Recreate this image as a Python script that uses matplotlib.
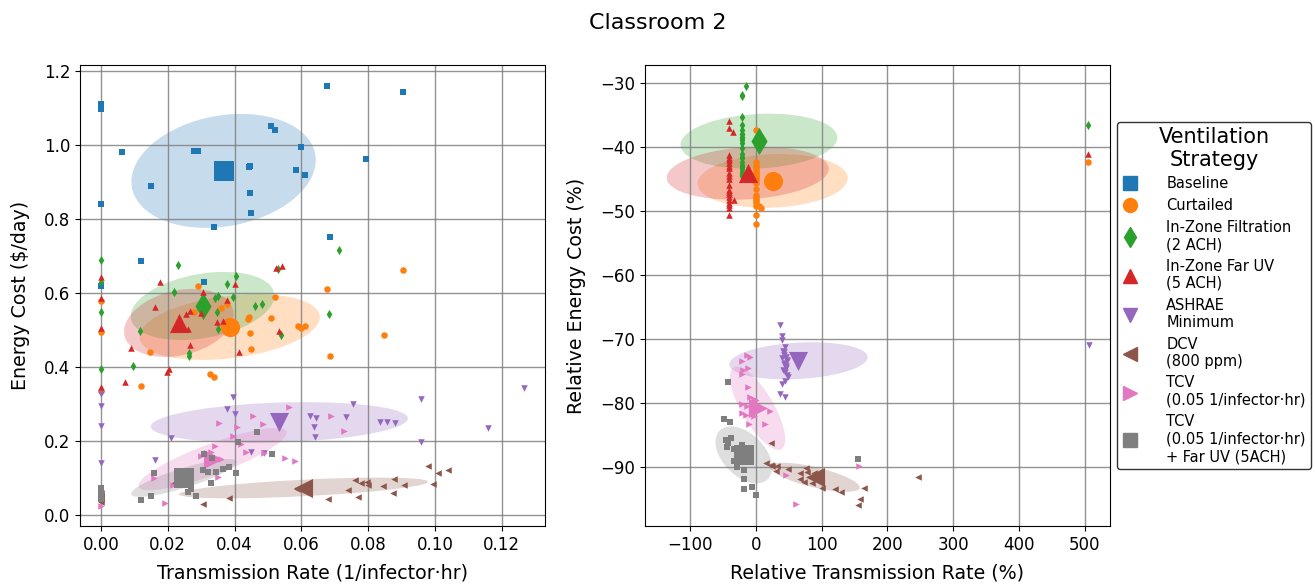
import numpy as np
import matplotlib
matplotlib.use('Agg')
import matplotlib.pyplot as plt
import matplotlib.transforms as transforms
from matplotlib.patches import Ellipse
from matplotlib.lines import Line2D

plt.rcParams['font.size'] = 12

strategies = ['Baseline', 'Curtailed', 'In-Zone Filtration\n(2 ACH)', 'In-Zone Far UV\n(5 ACH)',
              'ASHRAE\nMinimum', 'DCV\n(800 ppm)', 'TCV\n(0.05 1/infector\u00b7hr)',
              'TCV\n(0.05 1/infector\u00b7hr)\n+ Far UV (5ACH)']
colors = ['tab:blue', 'tab:orange', 'tab:green', 'tab:red', 'tab:purple', 'tab:brown', 'tab:pink', 'tab:gray']
markers = ['s', 'o', 'd', '^', 'v', '<', '>', 's']

# ---- absolute values (left panel) ----
base_x = [0, 0, 0.0063, 0.0149, 0, 0.0278, 0.029, 0.0442, 0.0445, 0.0445, 0.0448, 0.0338, 0.0508, 0.0522,
          0.060, 0.0585, 0.0612, 0.0119, 0.0678, 0.0904, 0.0794, 0.0686, 0.0307, 0]
base_y = [1.11, 1.098, 0.981, 0.889, 0.84, 0.984, 0.983, 0.94, 0.943, 0.870, 0.816, 0.778, 1.051, 1.04,
          0.995, 0.932, 0.919, 0.686, 1.159, 1.143, 0.962, 0.751, 0.63, 0.619]
curt_x = [0, 0, 0, 0.029, 0.0521, 0.0376, 0.0279, 0.0508, 0.0443, 0.044, 0.0589, 0.0599, 0.0611, 0.0445,
          0.0449, 0.0148, 0.0327, 0.0338, 0.0119, 0.0904, 0.0677, 0.0847, 0.0686, 0.036]
curt_y = [0.579, 0.495, 0.336, 0.619, 0.59, 0.569, 0.548, 0.532, 0.536, 0.529, 0.511, 0.505, 0.512, 0.491,
          0.449, 0.441, 0.382, 0.374, 0.348, 0.661, 0.61, 0.486, 0.43, 0.56]
filt_x = [0, 0, 0, 0, 0.0232, 0.0531, 0.0218, 0.0405, 0.0377, 0.035, 0.0341, 0.0396, 0.0462, 0.0482,
          0.0346, 0.0351, 0.0117, 0.054, 0.0263, 0.0263, 0.0096, 0.0712, 0.0682, 0.031]
filt_y = [0.689, 0.631, 0.549, 0.394, 0.676, 0.665, 0.604, 0.647, 0.624, 0.593, 0.586, 0.588, 0.565, 0.569,
          0.548, 0.504, 0.497, 0.486, 0.439, 0.43, 0.404, 0.717, 0.542, 0.57]
uv_x = [0, 0, 0, 0, 0.0541, 0.0525, 0.0177, 0.0402, 0.0304, 0.0376, 0.0163, 0.0265, 0.0255, 0.0298,
        0.0346, 0.0366, 0.0259, 0.0532, 0.0265, 0.0089, 0.0412, 0.0205, 0.0197, 0.0073]
uv_y = [0.644, 0.586, 0.505, 0.347, 0.674, 0.668, 0.631, 0.623, 0.602, 0.581, 0.561, 0.550, 0.542, 0.545,
        0.522, 0.524, 0.503, 0.498, 0.459, 0.452, 0.441, 0.395, 0.386, 0.359]
ash_x = [0, 0, 0, 0, 0.0376, 0.0401, 0.0396, 0.0627, 0.0644, 0.0637, 0.0642, 0.0733, 0.0754, 0.0209,
         0.0162, 0.045, 0.0488, 0.0836, 0.0856, 0.088, 0.1266, 0.1159, 0.0958, 0.0958]
ash_y = [0.327, 0.295, 0.241, 0.14, 0.286, 0.273, 0.318, 0.268, 0.261, 0.237, 0.212, 0.264, 0.30, 0.207,
         0.149, 0.169, 0.167, 0.25, 0.251, 0.248, 0.344, 0.234, 0.198, 0.313]
dcv_x = [0.098, 0.1008, 0.104, 0.0995, 0.0876, 0.0907, 0.0844, 0.0873, 0.0759, 0.0779, 0.0796, 0.0798,
         0.0738, 0.0769, 0.0679, 0.0587, 0.0383, 0.0305, 0.0219, 0.062, 0, 0, 0, 0]
dcv_y = [0.132, 0.114, 0.121, 0.084, 0.098, 0.080, 0.078, 0.060, 0.095, 0.087, 0.09, 0.081,
         0.068, 0.048, 0.042, 0.069, 0.047, 0.029, 0.086, 0.075, 0.06, 0.05, 0.042, 0.035]
tcv_x = [0.0562, 0.0454, 0.0353, 0.0406, 0.0486, 0.069, 0.0726, 0.0396, 0.0418, 0.034, 0.0435, 0.0489,
         0.0551, 0.0582, 0.0307, 0.0358, 0.035, 0.016, 0.0217, 0.0191, 0, 0, 0.030, 0.033]
tcv_y = [0.293, 0.268, 0.249, 0.239, 0.246, 0.268, 0.226, 0.213, 0.191, 0.186, 0.169, 0.168,
         0.153, 0.146, 0.165, 0.15, 0.102, 0.099, 0.081, 0.032, 0.046, 0.025, 0.16, 0.17]
tuv_x = [0.0467, 0.0409, 0.0512, 0.0307, 0.0331, 0.0304, 0.032, 0.0343, 0.0366, 0.0382, 0.0403, 0.033,
         0.0159, 0.0259, 0.0269, 0.0284, 0.0149, 0.0121, 0, 0, 0, 0, 0.024, 0.027]
tuv_y = [0.225, 0.198, 0.164, 0.164, 0.155, 0.122, 0.115, 0.115, 0.124, 0.129, 0.113, 0.086,
         0.113, 0.061, 0.069, 0.052, 0.052, 0.041, 0.074, 0.063, 0.052, 0.043, 0.105, 0.095]

# mean, std and correlation of each cloud (left panel)
abs_mean_x = [0.0367, 0.0385, 0.0304, 0.0233, 0.0534, 0.0606, 0.0334, 0.0248]
abs_mean_y = [0.930, 0.508, 0.565, 0.519, 0.250, 0.073, 0.151, 0.100]
abs_std_x = [0.0276, 0.027, 0.0215, 0.0164, 0.0385, 0.0373, 0.0222, 0.0158]
abs_std_y = [0.154, 0.089, 0.092, 0.092, 0.055, 0.028, 0.084, 0.051]
abs_rho = [0.19, 0.3, 0.3, 0.25, 0.2, 0.6, 0.85, 0.84]

# ---- relative values (right panel), baseline excluded ----
curt_rx = [0, 0, 0, 0, 0, 0, 0, 0, 0, 0, 0, 0, 5, 8, 0, 0, 505, 0, 0, 0, 0, 0, 0, 0]
curt_ry = [-37.3, -42.3, -42.9, -43.4, -44.0, -44.6, -45.1, -45.6, -47.5, -48.1, -48.8, -49.3, -49.3, -49.5,
           -50.6, -52.1, -42.3, -43.0, -44.3, -46.5, -47.8, -44.8, -43.7, -48.5]
filt_rx = [-14.7, -21, -21, -21, -21, -21, -21, -21, -21, -21, -21, -21, -21, -21, -21, 505,
           -21, -21, -21, -21, -21, -21, -21, -21]
filt_ry = [-30.5, -31.9, -32.1, -35.4, -37.3, -37.9, -38.4, -38.9, -39.4, -41.1, -41.8, -42.4, -43.1, -43.9,
           -44.6, -36.5, -38.0, -38.6, -40.2, -41.5, -42.8, -43.5, -44.2, -36.5]
uv_rx = [-40, -40, -34, -40, -40, -40, -40, -40, -40, -40, -40, -40, -33, -40, -40, -40, -40, 505,
         -40, -40, -40, -40, -40, -40]
uv_ry = [-36.0, -37.1, -37.6, -41.3, -41.8, -42.5, -43.3, -44.0, -44.5, -46.7, -47.3, -47.8, -48.3, -48.3,
         -49.0, -49.5, -50.6, -41.1, -42.0, -43.0, -45.0, -46.0, -47.0, -48.7]
ash_rx = [36.4, 39.4, 40.4, 44.4, 42.9, 45.5, 40.4, 47, 43, 45.5, 44, 47, 49, 40.4, 36.4, 44.4, 506,
          43, 46, 41, 48, 44, 42, 45]
ash_ry = [-67.8, -69.6, -70.2, -71.3, -72.5, -72.8, -73.0, -73.5, -73.9, -74.6, -75.2, -75.6, -76, -77.1,
          -78.6, -79.0, -71.0, -72.0, -74.2, -74.9, -73.2, -76.5, -71.8, -73.7]
dcv_rx = [23.8, 15.2, 22.7, 25, 31.8, 30.3, 49, 67, 75.8, 78.3, 68, 74, 101, 121, 129, 165, 158, 155, 247,
          90, 95, 85, 88, 93]
dcv_ry = [-86.3, -89.4, -89.7, -89.9, -89.9, -90.6, -90.3, -90.9, -90.2, -90.7, -91.8, -92.3, -93.3, -93.5,
          -93.9, -93.2, -95, -95.9, -91.6, -91.2, -92.0, -92.5, -91.0, -91.6]
tcv_rx = [-12.6, -8.6, -20, -11, -18.6, -20, -11, -2.5, -20, -13.6, -20, -15, 21.7, -10, 13.6, 46.5, 60.6,
          156.6, 0, 5, -5, 8, -8, -3]
tcv_ry = [-72.5, -72.8, -73.4, -74.5, -74.8, -75.4, -77.5, -79.3, -80.2, -80.5, -81.6, -81.9, -81.3, -83.3,
          -83.3, -91.25, -95.7, -89.8, -79.5, -80.5, -80.0, -81.0, -79.0, -82.0]
tuv_rx = [-42, -48, -39.4, -45.5, -42, -38, -43, -33, -28, -22.7, -17.7, -12.6, -10, -33, -25, -17.7, -28,
          -17.7, -17.7, -6, -17.7, 1, 155, -20]
tuv_ry = [-76.7, -82.5, -82.9, -85.8, -86.3, -85.4, -86.8, -87.1, -87.6, -87.3, -88.1, -87.1, -88.4, -89.1,
          -89.2, -88.9, -90, -90.5, -91.9, -93.1, -93.5, -94.4, -88.8, -86.5]

rel_mean_x = [25.8, 5.0, -12.0, 65.0, 90.0, 3.0, -18.0]
rel_mean_y = [-45.3, -39.1, -44.1, -73.4, -91.6, -80.8, -88.1]
rel_std_x = [114, 119, 123, 105, 68, 42, 43]
rel_std_y = [4.2, 4.3, 4.14, 2.9, 2.27, 6.5, 4.45]
rel_rho = [0.1, 0.13, 0.17, 0.19, -0.7, -0.75, -0.45]


def cov_ellipse(ax, mx, my, sx, sy, rho, color):
    ell = Ellipse((0, 0), width=2 * np.sqrt(1 + rho), height=2 * np.sqrt(1 - rho),
                  facecolor=color, edgecolor='none', alpha=0.25)
    t = transforms.Affine2D().rotate_deg(45).scale(sx, sy).translate(mx, my)
    ell.set_transform(t + ax.transData)
    ax.add_patch(ell)


fig = plt.figure(figsize=(13.15, 5.85), dpi=100)
ax1 = fig.add_axes([0.0608, 0.1009, 0.3536, 0.7880])
ax2 = fig.add_axes([0.4905, 0.1009, 0.3536, 0.7880])

abs_sets = [(base_x, base_y), (curt_x, curt_y), (filt_x, filt_y), (uv_x, uv_y), (ash_x, ash_y),
            (dcv_x, dcv_y), (tcv_x, tcv_y), (tuv_x, tuv_y)]
for i, (xs, ys) in enumerate(abs_sets):
    ax1.scatter(xs, ys, s=22, marker=markers[i], color=colors[i], zorder=2, linewidths=0)
    ax1.scatter(abs_mean_x[i], abs_mean_y[i], s=190, marker=markers[i], color=colors[i], zorder=2, linewidths=0)
    cov_ellipse(ax1, abs_mean_x[i], abs_mean_y[i], abs_std_x[i], abs_std_y[i], abs_rho[i], colors[i])

rel_sets = [(curt_rx, curt_ry), (filt_rx, filt_ry), (uv_rx, uv_ry), (ash_rx, ash_ry),
            (dcv_rx, dcv_ry), (tcv_rx, tcv_ry), (tuv_rx, tuv_ry)]
for j, (xs, ys) in enumerate(rel_sets):
    i = j + 1
    ax2.scatter(xs, ys, s=22, marker=markers[i], color=colors[i], zorder=2, linewidths=0)
    ax2.scatter(rel_mean_x[j], rel_mean_y[j], s=190, marker=markers[i], color=colors[i], zorder=2, linewidths=0)
    cov_ellipse(ax2, rel_mean_x[j], rel_mean_y[j], rel_std_x[j], rel_std_y[j], rel_rho[j], colors[i])

ax1.set_xlim(-0.0063, 0.1329)
ax1.set_ylim(-0.0297, 1.2162)
ax1.set_xticks(np.arange(0, 0.121, 0.02))
ax1.set_xticklabels(['%.2f' % v for v in np.arange(0, 0.121, 0.02)])
ax1.set_yticks(np.arange(0, 1.21, 0.2))
ax1.set_yticklabels(['%.1f' % v for v in np.arange(0, 1.21, 0.2)])
ax1.set_xlabel('Transmission Rate (1/infector\u00b7hr)', fontsize=13.7, labelpad=7)
ax1.set_ylabel('Energy Cost ($/day)', fontsize=13.7, labelpad=10)

ax2.set_xlim(-168, 538)
ax2.set_ylim(-99.2, -27.2)
ax2.set_xticks(range(-100, 501, 100))
ax2.set_yticks(range(-90, -29, 10))
ax2.set_xlabel('Relative Transmission Rate (%)', fontsize=13.7, labelpad=7)
ax2.set_ylabel('Relative Energy Cost (%)', fontsize=13.7, labelpad=10)

for ax in (ax1, ax2):
    ax.grid(True, color='0.5', linewidth=1, alpha=0.85)

handles = [Line2D([], [], marker=markers[i], color=colors[i], linestyle='None', markersize=10)
           for i in range(len(strategies))]
leg = ax2.legend(handles, strategies, title='Ventilation\nStrategy', loc='center left',
                 bbox_to_anchor=(1.0, 0.5), fontsize=10.5, title_fontsize=15,
                 handlelength=1.0, handletextpad=2.0, labelspacing=0.45, borderpad=0.35,
                 edgecolor='0.2', framealpha=1)
leg.get_title().set_multialignment('center')

fig.suptitle('Classroom 2', fontsize=16, y=0.978)
fig.savefig('out.png', dpi=100)
